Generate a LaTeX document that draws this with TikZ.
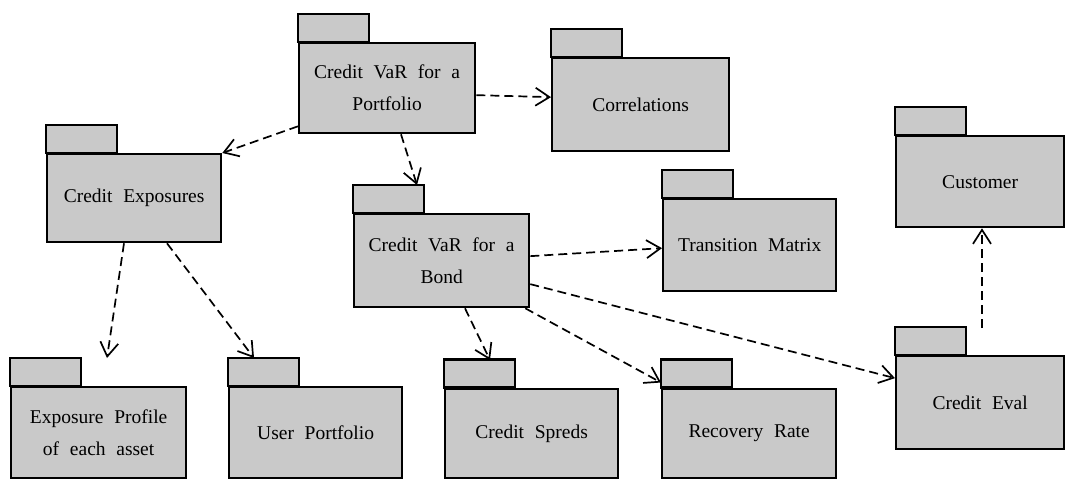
\documentclass[tikz,border=0pt]{standalone}
\usepackage{fontspec}
\setmainfont{Liberation Serif}[WordSpace=2.2]
\usetikzlibrary{arrows.meta,calc}
\definecolor{pkgfill}{gray}{0.79}
\tikzset{
  pkg/.style={draw=black, fill=pkgfill, line width=2.3pt, anchor=north west,
    align=center, inner sep=0pt,
    font=\fontsize{19.5}{32}\selectfont},
  pkgtab/.style={draw=black, fill=pkgfill, line width=2.3pt},
  dep/.style={draw=black, line width=1.7pt, dash pattern=on 9pt off 5pt,
    -{Straight Barb[length=14pt,width=18pt,line width=1.7pt]}}
}
% \pkgbox{name}{left}{body top}{width}{height}{label}
\newcommand{\pkgbox}[6]{%
  \draw[pkgtab] (#2,#3) rectangle ++(71,-28);
  \node[pkg, minimum width=#4pt, minimum height=#5pt] (#1) at (#2,#3) {#6};
}
\begin{document}
\begin{tikzpicture}[x=1pt, y=-1pt]
  \useasboundingbox (0,0) rectangle (1065,479);

  \pkgbox{port}{298}{42}{176}{90}{Credit VaR for a\\Portfolio}
  \pkgbox{corr}{551}{57}{177}{93}{Correlations}
  \pkgbox{expo}{46}{153}{174}{88}{Credit Exposures}
  \pkgbox{bond}{353}{213}{175}{93}{Credit VaR for a\\Bond}
  \pkgbox{trans}{662}{198}{173}{92}{Transition Matrix}
  \pkgbox{cust}{895}{135}{168}{91}{Customer}
  \pkgbox{eval}{895}{355}{168}{93}{Credit Eval}
  \pkgbox{prof}{10}{386}{175}{91}{Exposure Profile\\of each asset}
  \pkgbox{user}{228}{386}{173}{91}{User Portfolio}
  \pkgbox{spreds}{444}{387.5}{173}{89.5}{Credit Spreds}
  \pkgbox{recov}{661}{387.5}{174}{89.5}{Recovery Rate}

  % dependencies
  \draw[dep] ($(port.south west)+(0,-8)$) -- (expo.north east);
  \draw[dep] ($(port.south west)+(103,0)$) -- ($(bond.north west)+(64,-28)$);
  \draw[dep] ($(port.east)+(0,7)$) -- ($(corr.west)+(0,-7.5)$);
  \draw[dep] ($(bond.east)+(0,-4.5)$) -- ($(trans.west)+(0,3)$);
  \draw[dep] ($(bond.east)+(0,23.5)$) -- ($(eval.west)+(0,-24.5)$);
  \draw[dep] ($(bond.south east)+(-5,0)$) -- ($(recov.north west)+(0,-5)$);
  \draw[dep] ($(bond.south west)+(112,0)$) -- ($(spreds.north west)+(46,-27.5)$);
  \draw[dep] ($(expo.south west)+(78,0)$) -- ($(prof.north west)+(97,-28)$);
  \draw[dep] ($(expo.south west)+(121,0)$) -- ($(user.north west)+(26,-28)$);
  \draw[dep] ($(eval.north west)+(87,-27)$) -- ($(cust.south west)+(87,0)$);
\end{tikzpicture}
\end{document}
